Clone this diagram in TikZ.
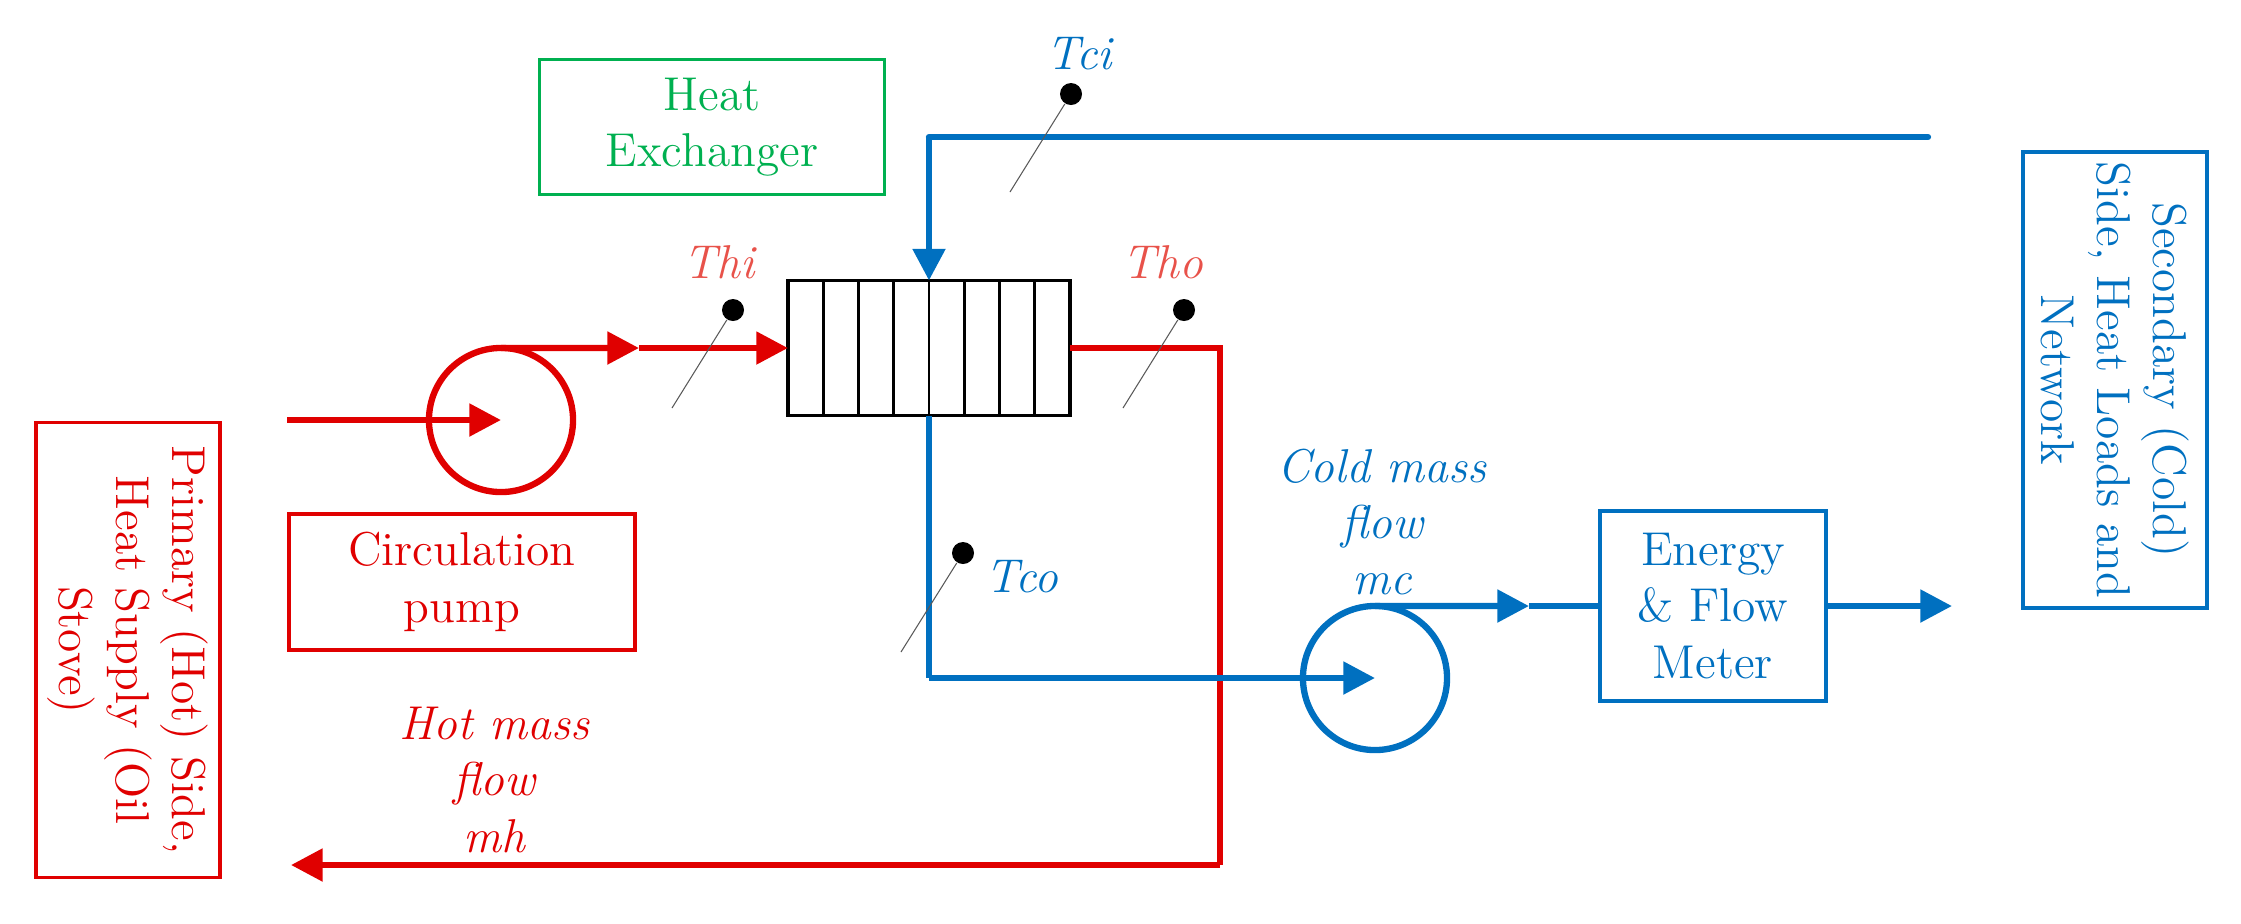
\documentclass[tikz,border=0pt]{standalone}
\usepackage{tikz}
\usetikzlibrary{arrows.meta,positioning,calc}
\definecolor{hotred}{HTML}{E00000}
\definecolor{senred}{HTML}{E8524A}
\definecolor{coldblue}{HTML}{0070C0}
\definecolor{hxgreen}{HTML}{00B050}
\tikzset{x=0.01cm, y=-0.01cm,
        every node/.style={font=\fontsize{13.5}{16}\selectfont, align=center},
        box/.style={draw, line width=1pt, inner sep=2pt}, % labelled boxes
        pipe/.style={line width=1.8pt}, % pipes
        flow/.style={pipe, -{Triangle[length=9pt,width=9pt]}}, % pipes with arrowheads
        pump/.style={circle, draw, line width=1.8pt, minimum size=1.44cm, inner sep=0pt, outer sep=0pt},
        probe/.style={circle, fill=black, inner sep=0pt, minimum size=0.22cm},
        stem/.style={draw=gray!70!black, line width=0.3pt},
        tag/.style={font=\fontsize{13.5}{16}\selectfont\itshape}
        }
\begin{document}
\begin{tikzpicture}
    \useasboundingbox (0,0) rectangle (2241,923);

    % boxes
    \node[box, draw=hxgreen, text=hxgreen, minimum width=3.45cm, minimum height=1.35cm] (hxlabel) at (712,127) {Heat\\Exchanger};
    \node[box, draw=hotred, text=hotred, minimum width=3.46cm, minimum height=1.36cm] (pumplabel) at (462,582) {Circulation\\pump};
    \node[box, draw=hotred, text=hotred, rotate=-90, minimum width=4.55cm, minimum height=1.84cm] (primary) at (128,650) {Primary (Hot) Side,\\Heat Supply (Oil\\Stove)};
    \node[box, draw=coldblue, text=coldblue, rotate=-90, minimum width=4.56cm, minimum height=1.84cm] (secondary) at (2115,380) {Secondary (Cold)\\Side, Heat Loads and\\Network};
    \node[box, draw=coldblue, text=coldblue, minimum width=2.26cm, minimum height=1.9cm] (meter) at (1713,606) {Energy\\\& Flow\\Meter};

    % heat exchanger
    \node[draw, line width=1pt, minimum width=2.82cm, minimum height=1.35cm, inner sep=0pt, outer sep=0pt] (hx) at (929,348) {};
    \foreach \i in {1,...,7}
        \draw[line width=0.8pt] ($(hx.north west)!\i/8!(hx.north east)$) -- ($(hx.south west)!\i/8!(hx.south east)$);

    % pumps
    \node[pump, draw=hotred] (hpump) at (501,420) {};
    \node[pump, draw=coldblue] (cpump) at (1375,678) {};

    % hot side
    \coordinate (hin) at (287,420);
    \coordinate (hhead) at (639,348);
    \coordinate (hcorner) at (1220,348);
    \coordinate (hbottom) at (1220,865);
    \coordinate (hout) at (291,865);
    \draw[flow, hotred] (hin) -- (hpump.center);
    \draw[flow, hotred] (hpump.north) -- (hhead);
    \draw[flow, hotred] (hhead) -- (hx.west);
    \draw[pipe, hotred] (hx.east) -- (hcorner) -- (hbottom);
    \draw[flow, hotred] (hbottom) -- (hout);

    % cold side
    \coordinate (cin) at (1928,137);
    \coordinate (ctop) at (929,137);
    \coordinate (cbottom) at (929,678);
    \coordinate (chead) at (1529,606);
    \coordinate (cout) at (1952,606);
    \draw[pipe, coldblue, line cap=round] (cin) -- (ctop);
    \draw[flow, coldblue] (ctop) -- (hx.north);
    \draw[pipe, coldblue] (hx.south) -- (cbottom);
    \draw[flow, coldblue] (cbottom) -- (cpump.center);
    \draw[flow, coldblue] (cpump.north) -- (chead);
    \draw[pipe, coldblue] (chead) -- (meter.west);
    \draw[flow, coldblue] (meter.east) -- (cout);

    % temperature probes
    \node[probe] (thi) at (733,310) {};
    \node[probe] (tci) at (1071,94) {};
    \node[probe] (tho) at (1184,310) {};
    \node[probe] (tco) at (963,553) {};
    \coordinate (thiend) at (672,408);
    \coordinate (tciend) at (1010,192);
    \coordinate (thoend) at (1123,408);
    \coordinate (tcoend) at (901,652);
    \draw[stem] (thi) -- (thiend);
    \draw[stem] (tci) -- (tciend);
    \draw[stem] (tho) -- (thoend);
    \draw[stem] (tco) -- (tcoend);
    \node[tag, text=senred] (thilabel) at (719,262) {Thi};
    \node[tag, text=coldblue] (tcilabel) at (1079,54) {Tci};
    \node[tag, text=senred] (tholabel) at (1163,262) {Tho};
    \node[tag, text=coldblue] (tcolabel) at (1022,577) {Tco};

    % flow labels
    \node[tag, text=hotred] (hotflow) at (494,780) {Hot mass\\flow\\mh};
    \node[tag, text=coldblue] (coldflow) at (1382,522) {Cold mass\\flow\\mc};
\end{tikzpicture}
\end{document}
